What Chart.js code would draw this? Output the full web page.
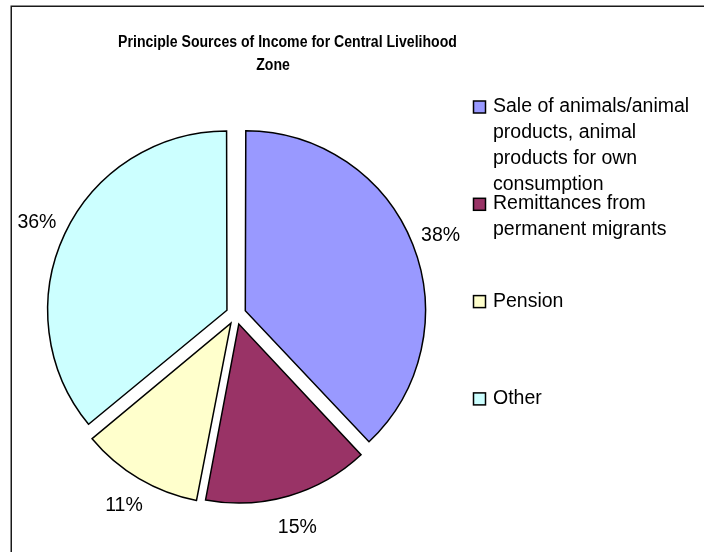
<!DOCTYPE html>
<html>
<head>
<meta charset="utf-8">
<script src="https://cdn.jsdelivr.net/npm/chart.js@4/dist/chart.umd.min.js"></script>
<style>
  html, body { margin: 0; padding: 0; background: #fff; }
  #wrap { width: 704px; height: 552px; position: relative; }
</style>
</head>
<body>
<div id="wrap"><canvas id="c" width="704" height="552"></canvas></div>
<script>
// Chart content
const titleLines = ['Principle Sources of Income for Central Livelihood', 'Zone'];
const categories = [
  'Sale of animals/animal products, animal products for own consumption',
  'Remittances from permanent migrants',
  'Pension',
  'Other'
];
const shares = [38, 15, 11, 36];

// Slice fills
const sliceColors = ['#9999FF', '#993366', '#FFFFCC', '#CCFFFF'];

const FONT = '"Liberation Sans", Arial, Helvetica, sans-serif';

function wrapText(ctx, text, maxWidth) {
  const words = text.split(' ');
  const lines = [];
  let line = '';
  for (const w of words) {
    const test = line ? line + ' ' + w : w;
    if (line && ctx.measureText(test).width > maxWidth) {
      lines.push(line);
      line = w;
    } else {
      line = test;
    }
  }
  if (line) lines.push(line);
  return lines;
}

// Slightly condensed bold title text, centred on cx
function condensedText(ctx, text, cx, baseline, squeeze) {
  ctx.save();
  ctx.translate(cx, baseline);
  ctx.scale(squeeze, 1);
  ctx.fillText(text, 0, 0);
  ctx.restore();
}

// Frame, title, legend and percentage labels
const decorations = {
  id: 'decorations',
  beforeDraw(chart) {
    const ctx = chart.ctx;
    ctx.save();
    ctx.fillStyle = '#ffffff';
    ctx.fillRect(0, 0, chart.width, chart.height);
    ctx.strokeStyle = '#1a1a1a';
    ctx.lineWidth = 1.5;
    ctx.strokeRect(11.25, 6.25, 760, 620);
    ctx.restore();
  },
  afterDraw(chart) {
    const ctx = chart.ctx;
    ctx.save();

    // title
    ctx.fillStyle = '#000';
    ctx.font = 'bold 16px ' + FONT;
    ctx.textAlign = 'center';
    ctx.textBaseline = 'alphabetic';
    condensedText(ctx, titleLines[0], 287.5, 47, 0.88);
    condensedText(ctx, titleLines[1], 273, 70, 0.88);

    // legend
    ctx.font = '19.5px ' + FONT;
    ctx.textAlign = 'left';
    const labels = chart.data.labels;
    const colors = chart.data.datasets[0].backgroundColor;
    labels.forEach((lab, i) => {
      const base = 112 + i * 97.3;
      ctx.fillStyle = colors[i];
      ctx.fillRect(473.5, base - 11, 12, 12);
      ctx.strokeStyle = '#000';
      ctx.lineWidth = 1.5;
      ctx.strokeRect(473.5, base - 11, 12, 12);
      ctx.fillStyle = '#000';
      wrapText(ctx, lab, 205).forEach((ln, k) => {
        ctx.fillText(ln, 493, base + k * 26);
      });
    });

    // percentage labels outside each slice
    const meta = chart.getDatasetMeta(0);
    const values = chart.data.datasets[0].data;
    const total = values.reduce((a, b) => a + b, 0);
    ctx.textAlign = 'center';
    meta.data.forEach((arc, i) => {
      const p = arc.getProps(['x', 'y', 'startAngle', 'endAngle', 'outerRadius'], true);
      const mid = (p.startAngle + p.endAngle) / 2;
      const d = p.outerRadius + 43;
      const cx = p.x + Math.cos(mid) * d;
      const cy = p.y + Math.sin(mid) * d;
      const pct = Math.round(values[i] / total * 100) + '%';
      ctx.fillText(pct, cx, cy + 7);
    });

    ctx.restore();
  }
};

new Chart(document.getElementById('c').getContext('2d'), {
  type: 'pie',
  data: {
    labels: categories,
    datasets: [{
      data: shares,
      backgroundColor: sliceColors,
      borderColor: '#000',
      borderWidth: 1.5,
      borderJoinStyle: 'miter',
      offset: 40,
      radius: 177
    }]
  },
  options: {
    responsive: false,
    animation: false,
    devicePixelRatio: 1,
    events: [],
    layout: { padding: { left: 46, right: 278, top: 125, bottom: 48 } },
    plugins: {
      legend: { display: false },
      title: { display: false },
      tooltip: { enabled: false }
    }
  },
  plugins: [decorations]
});
</script>
</body>
</html>
